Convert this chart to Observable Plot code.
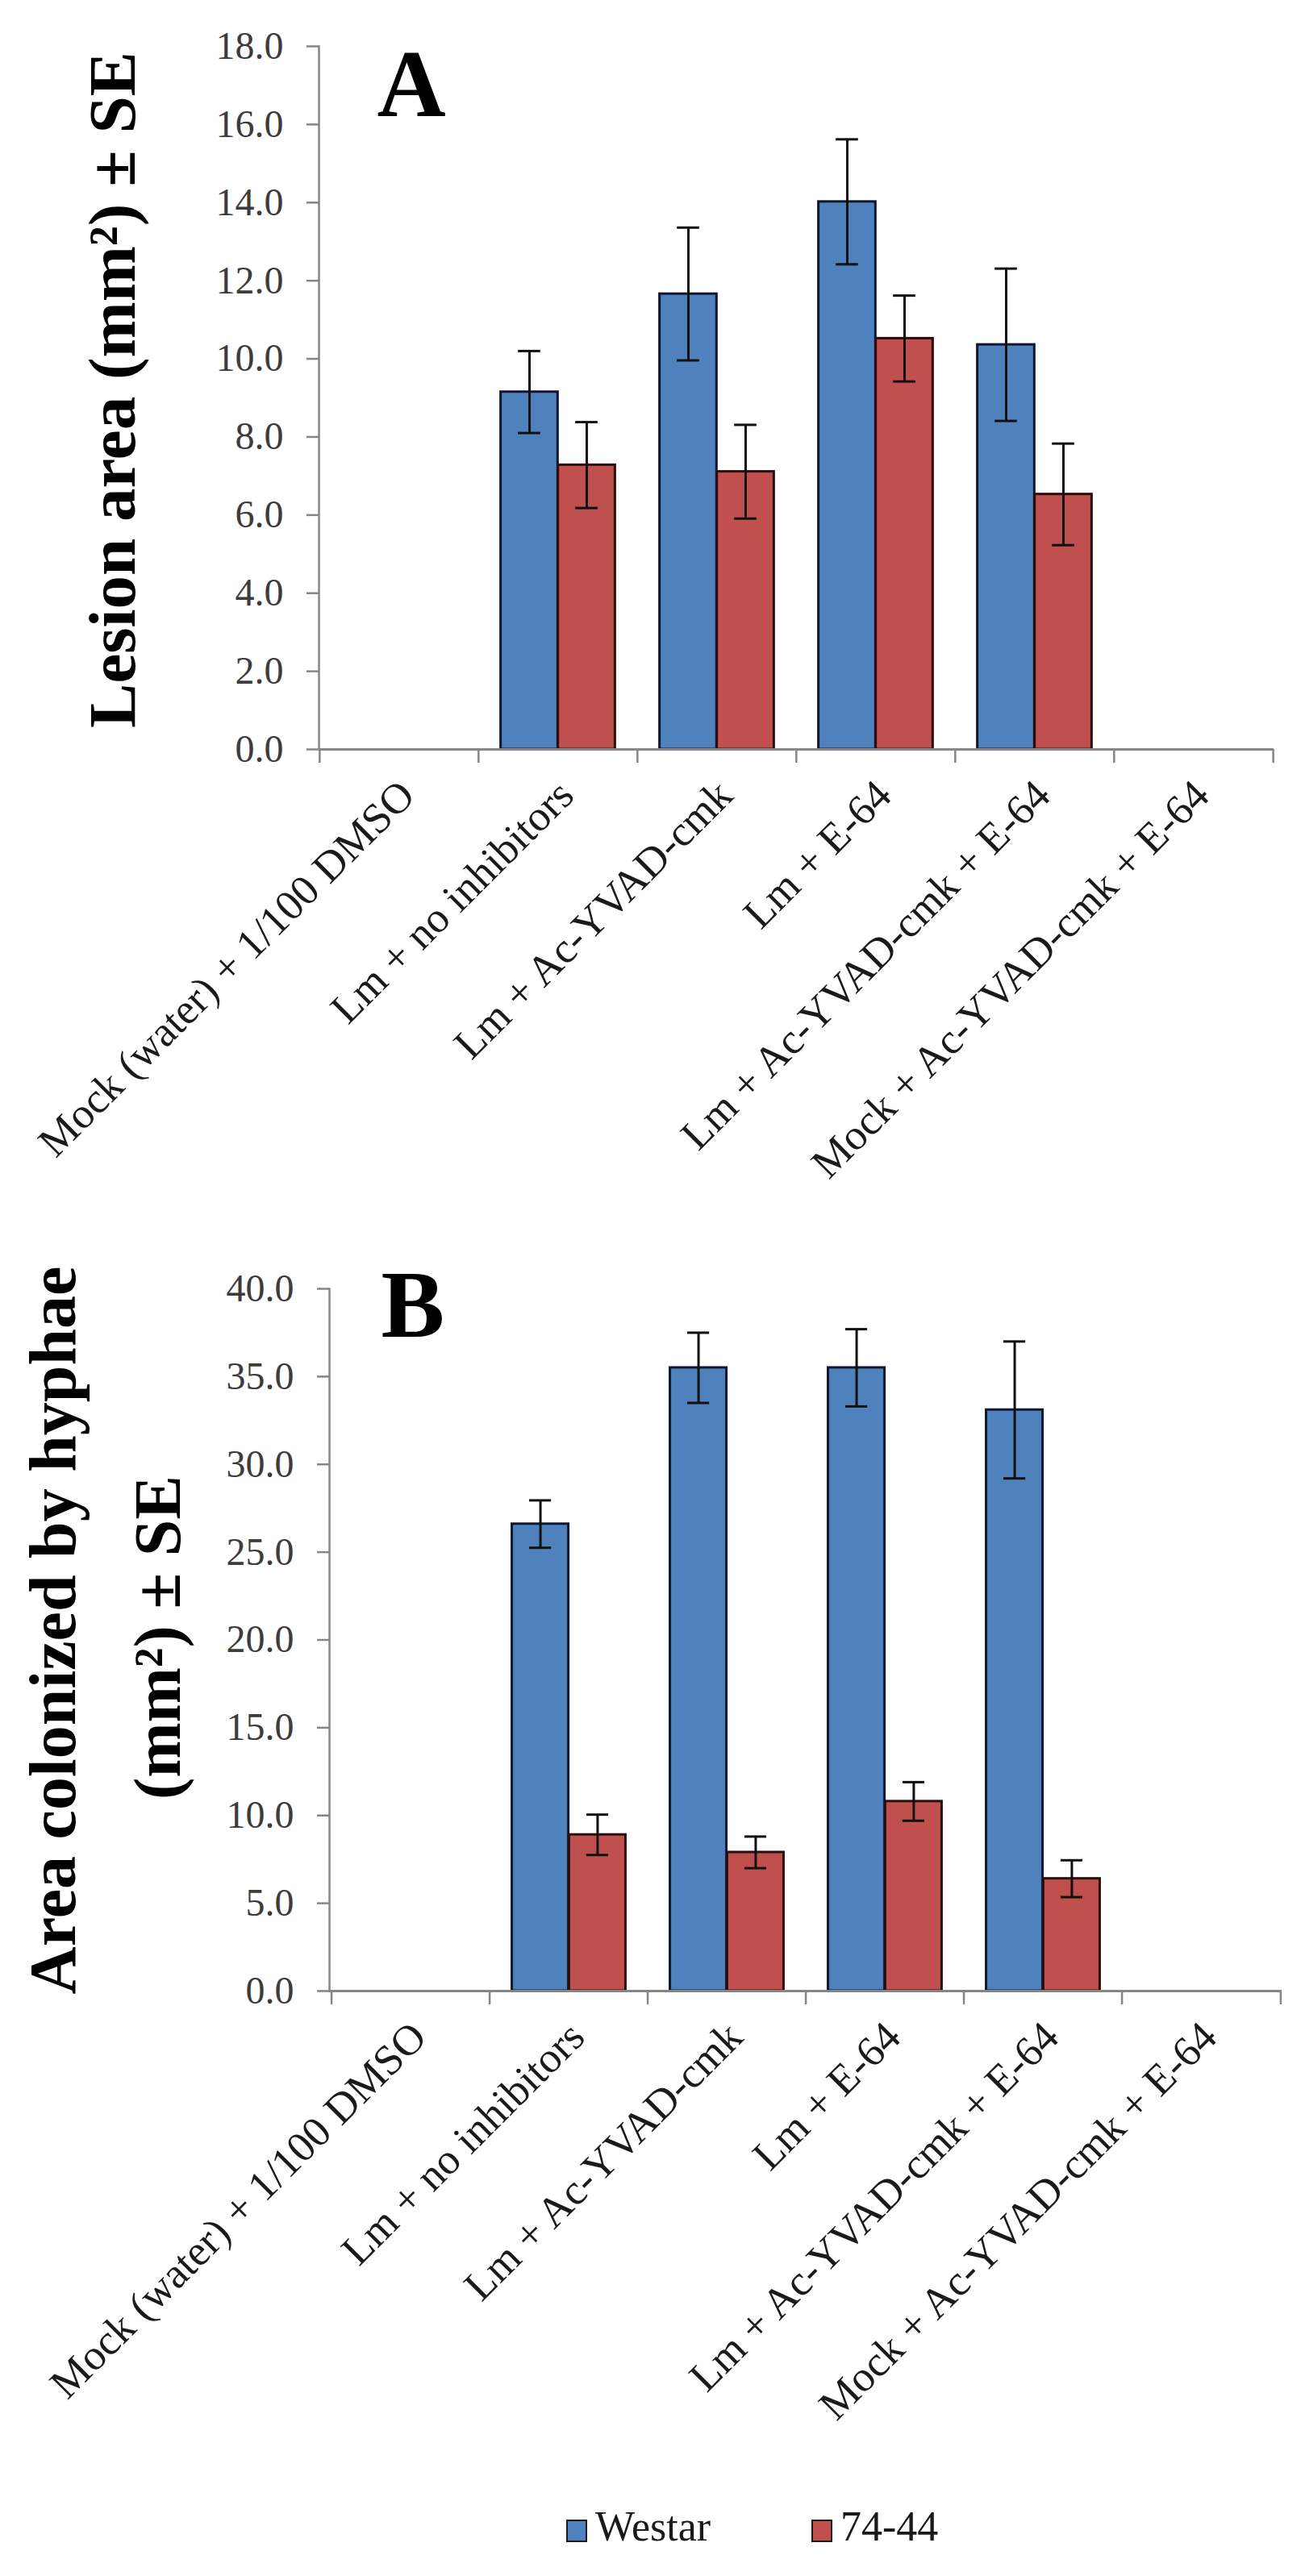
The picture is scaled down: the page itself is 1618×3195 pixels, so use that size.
<!DOCTYPE html>
<html><head><meta charset="utf-8">
<script src="https://cdn.jsdelivr.net/npm/d3@7"></script>
<script src="https://cdn.jsdelivr.net/npm/@observablehq/plot@0.6"></script>
<style>
html,body{margin:0;padding:0;background:#fff;}
#wrap{width:1618px;}
#wrap svg{display:block;}
#legend{position:relative;width:1618px;height:145px;font-family:"Liberation Serif",serif;}
.sw{position:absolute;box-sizing:border-box;width:26px;height:28px;border:2.5px solid #1a1a1a;}
.lt{position:absolute;font-size:52px;line-height:1;color:#1a1a1a;white-space:nowrap;}
</style></head><body>
<div id="wrap"></div>
<div id="legend"></div>
<script>
const categories = [
  "Mock (water) + 1/100 DMSO",
  "Lm + no inhibitors",
  "Lm + Ac-YVAD-cmk",
  "Lm + E-64",
  "Lm + Ac-YVAD-cmk + E-64",
  "Mock + Ac-YVAD-cmk + E-64"
];
const series = ["Westar", "74-44"];
const seriesColors = ["#4F81BD", "#C0504D"];
const seriesOutline = ["#0e1730", "#2a0e0e"];

// Panel A: lesion area (mm²)
const lesionWestar   = [null, 9.15, 11.66, 14.02, 10.36, null];
const lesionWestarSE = [null, 1.05, 1.70, 1.60, 1.95, null];
const lesion7444     = [null, 7.28, 7.11, 10.52, 6.53, null];
const lesion7444SE   = [null, 1.10, 1.20, 1.10, 1.30, null];

// Panel B: area colonized by hyphae (mm²)
const hyphaeWestar   = [null, 26.6, 35.5, 35.5, 33.1, null];
const hyphaeWestarSE = [null, 1.35, 2.0, 2.2, 3.9, null];
const hyphae7444     = [null, 8.9, 7.9, 10.8, 6.4, null];
const hyphae7444SE   = [null, 1.15, 0.9, 1.1, 1.05, null];

const yTicksA = [0, 2, 4, 6, 8, 10, 12, 14, 16, 18];
const yTicksB = [0, 5, 10, 15, 20, 25, 30, 35, 40];

const axisGray = "#868686";

function rowsOf(values, ses) {
  return categories.map((cat, i) => ({cat, value: values[i], se: ses[i]}))
    .filter(d => d.value != null);
}

function panel({values, ses, yTicks, letter, titleLines, width, height, marginLeft, marginRight, marginTop, marginBottom, letterDx, letterDy}) {
  const bw = (width - marginLeft - marginRight) / categories.length;
  const outer = 0.14 * bw;
  const barCenterOff = (0.5 - outer / bw) / 2 * bw;
  const capHalf = 14;
  const marks = [];
  series.forEach((s, k) => {
    const rows = rowsOf(values[k], ses[k]);
    const sign = k === 0 ? -1 : 1;
    marks.push(Plot.barY(rows, {
      x: "cat", y: "value", fill: seriesColors[k], stroke: seriesOutline[k], strokeWidth: 3,
      insetLeft: k === 0 ? outer : bw / 2, insetRight: k === 0 ? bw / 2 : outer
    }));
    marks.push(Plot.ruleX(rows, {
      x: "cat", y1: d => d.value - d.se, y2: d => d.value + d.se,
      dx: sign * barCenterOff, stroke: "#111", strokeWidth: 3
    }));
    for (const end of [d => d.value - d.se, d => d.value + d.se]) {
      marks.push(Plot.tickY(rows, {
        x: "cat", y: end, dx: sign * barCenterOff,
        insetLeft: bw / 2 - capHalf, insetRight: bw / 2 - capHalf,
        stroke: "#111", strokeWidth: 3
      }));
    }
  });
  marks.push(Plot.ruleY([0], {stroke: axisGray, strokeWidth: 3}));
  marks.push(Plot.frame({anchor: "left", stroke: axisGray, strokeWidth: 2.5}));
  marks.push(Plot.axisY({
    ticks: yTicks, tickSize: 15, tickPadding: 29, tickFormat: d => d.toFixed(1),
    fontSize: 48, fill: "#3c3c3c", stroke: axisGray, strokeWidth: 2.5, label: null
  }));
  marks.push(Plot.axisX({ticks: categories, tickSize: 17, dx: -bw / 2, stroke: axisGray, strokeWidth: 2.5, fill: "none", label: null}));
  marks.push(Plot.axisX({ticks: [categories[categories.length - 1]], tickSize: 17, dx: bw / 2, stroke: axisGray, strokeWidth: 2.5, fill: "none", label: null}));
  marks.push(Plot.axisX({
    tickSize: 0, tickRotate: -45, tickPadding: 48, dx: 10, fontSize: 53, fill: "#1a1a1a", label: null
  }));
  titleLines.forEach(t => {
    marks.push(Plot.text([t.text], {
      frameAnchor: "left", dx: t.dx, dy: t.dy, rotate: -90, fontSize: t.size,
      textAnchor: "middle", lineAnchor: "middle",
      fontWeight: "bold", fill: "#000"
    }));
  });
  marks.push(Plot.text([letter], {
    frameAnchor: "top-left", dx: letterDx, dy: letterDy, fontSize: 118, fontWeight: "bold",
    textAnchor: "start", lineAnchor: "top", fill: "#000"
  }));
  return Plot.plot({
    width, height, marginLeft, marginRight, marginTop, marginBottom,
    style: {fontFamily: "Liberation Serif, serif", background: "#fff", overflow: "visible"},
    x: {type: "band", domain: categories, padding: 0},
    y: {domain: [0, yTicks[yTicks.length - 1]]},
    marks
  });
}

const wrap = document.getElementById("wrap");
wrap.appendChild(panel({
  values: [lesionWestar, lesion7444], ses: [lesionWestarSE, lesion7444SE],
  yTicks: yTicksA, letter: "A",
  titleLines: [{text: "Lesion area (mm²) ± SE", dx: -255, dy: -10, size: 83}],
  width: 1618, height: 1500, marginLeft: 395, marginRight: 39, marginTop: 57, marginBottom: 571,
  letterDx: 72, letterDy: 3
}));
wrap.appendChild(panel({
  values: [hyphaeWestar, hyphae7444], ses: [hyphaeWestarSE, hyphae7444SE],
  yTicks: yTicksB, letter: "B",
  titleLines: [
    {text: "Area colonized by hyphae", dx: -342, dy: -12, size: 82},
    {text: "(mm²) ± SE", dx: -212, dy: -3, size: 82}
  ],
  width: 1618, height: 1550, marginLeft: 408, marginRight: 29, marginTop: 98, marginBottom: 581,
  letterDx: 64, letterDy: -24
}));

const legend = document.getElementById("legend");
const legendPos = [{sw: 702, tx: 738}, {sw: 1006, tx: 1042}];
series.forEach((s, k) => {
  const sw = document.createElement("div");
  sw.className = "sw";
  sw.style.left = legendPos[k].sw + "px";
  sw.style.top = "75px";
  sw.style.background = seriesColors[k];
  legend.appendChild(sw);
  const t = document.createElement("div");
  t.className = "lt";
  t.style.left = legendPos[k].tx + "px";
  t.style.top = "58px";
  t.textContent = s;
  legend.appendChild(t);
});
</script>
</body></html>
